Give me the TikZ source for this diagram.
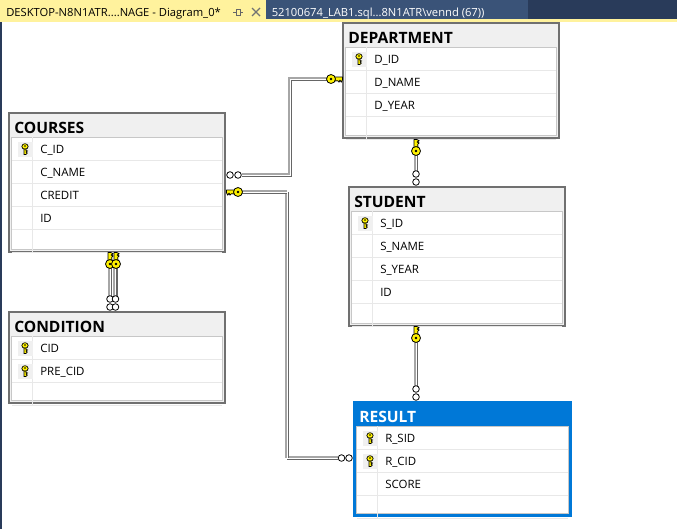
\documentclass[tikz,border=0pt]{standalone}
\usepackage{fontspec}
\setmainfont{Open Sans}
\usetikzlibrary{calc}
\definecolor{barbg}{HTML}{293B5A}
\definecolor{tabbg}{HTML}{3A5378}
\definecolor{tabyel}{HTML}{FFF29D}
\definecolor{keyyel}{HTML}{FFF200}
\definecolor{wingray}{HTML}{F0F0F0}
\definecolor{edgegray}{HTML}{707070}
\definecolor{selblue}{HTML}{0078D7}
\tikzset{
  x=0.75pt,y=-0.75pt,
  tableframe/.style={fill=wingray,draw=none,inner sep=0pt,outer sep=0pt,rectangle,anchor=north west},
  selframe/.style={tableframe,fill=selblue},
  tabletitle/.style={anchor=base west,inner sep=0pt,font=\fontsize{11.7}{12}\selectfont\bfseries},
  rowtext/.style={anchor=base west,inner sep=0pt,font=\fontsize{8.6}{10}\selectfont},
  inner/.style={draw=black!22,line width=0.75pt,fill=white},
  rowline/.style={draw=black!9,line width=0.75pt},
  keycell/.style={fill=wingray,draw=none},
  linklight/.style={line width=1.3pt,draw=black!35,line join=miter},
  linkdark/.style={line width=1.3pt,draw=black!60,line join=miter},
  linkmid/.style={line width=0.55pt,draw=white,line join=miter},
  circ/.style={draw=black,fill=white,line width=0.6pt},
  bigkeyshape/.style={fill=keyyel,draw=black,line width=0.6pt,line join=round},
  tabtext/.style={anchor=base west,inner sep=0pt,font=\fontsize{8.4}{10}\selectfont},
}
% small key icon at (#1)
\newcommand{\smallkey}[1]{%
  \begin{scope}[shift={(#1)}]
    \fill[keycell] (-7.5,-7.5) rectangle (7.5,7.5);
    \fill[keyyel,draw=black,line width=0.5pt] (0,-2.5) ellipse (3.2 and 2.8);
    \fill[keyyel,draw=black,line width=0.5pt] (-1,0) -- (1,0) -- (1,1.5) -- (2.5,2) -- (1,3) -- (2.3,4) -- (1,5.5) -- (-1,5.5) -- cycle;
    \fill[black] (0,-3) circle (0.8);
  \end{scope}}
% big key: head at origin, shaft toward +x, teeth toward +y (screen down)
\newcommand{\bigkey}[2]{%
  \begin{scope}[shift={(#1)},#2]
    \fill[bigkeyshape] (0,-2) -- (11.5,-2) -- (11.5,0.8) -- (10.2,3.2) -- (9,1) -- (8,3.2) -- (6.8,1.8) -- (0,2) -- cycle;
    \fill[bigkeyshape] (0,0) circle (4.5);
    \fill[black] (0,0) circle (1.3);
  \end{scope}}
% table: name, x, y, w, h, frame style, frame colour, frame width
\newcommand{\dbtable}[8]{%
  \node[#6,minimum width=#4*0.75pt,minimum height=#5*0.75pt] (#1) at (#2,#3) {};
  \draw[draw=#7,line width=#8] ($(#1.north west)+(1,1)$) rectangle ($(#1.south east)+(-1,-1)$);
}
\newcommand{\dbrows}[2]{%
  \path[inner] ($(#1.north west)+(3.5,25)$) rectangle ($(#1.south east)+(-3.5,-3.5)$);
  \foreach \r in {1,...,#2}{\draw[rowline] ($(#1.north west)+(4,25+23*\r)$) -- ($(#1.north east)+(-4,25+23*\r)$);}
  \draw[rowline] ($(#1.north west)+(24,25)$) -- ($(#1.north west)+(24,25+23*#2)$);
}
\begin{document}
\begin{tikzpicture}
\useasboundingbox (0,0) rectangle (677,529);
\fill[white] (0,0) rectangle (677,529);
% tab bar
\fill[barbg] (0,0) rectangle (677,19);
\fill[tabyel] (0,19) rectangle (677,22);
\fill[tabyel] (0,0) rectangle (266,22);
\fill[tabbg] (266,0) rectangle (528,19);
\fill[barbg] (0,22) rectangle (1.5,529);
\node[tabtext] (tab1) at (6,16) {DESKTOP-N8N1ATR....NAGE - Diagram\_0*};
\node[tabtext,text=white] (tab2) at (271.5,16) {52100674\_LAB1.sql...8N1ATR\textbackslash vennd (67))};
\draw[black!60,line width=0.6pt] (233,12) -- (236,12) (236,9) rectangle (240,15) (240,12) -- (243,12);
\draw[black!55,line width=1pt] (252,8) -- (260,16) (260,8) -- (252,16);
% tables
\dbtable{courses}{8}{112}{218}{141}{tableframe}{edgegray}{1.1pt}
\dbtable{department}{342}{22}{218}{117}{tableframe}{edgegray}{1.1pt}
\dbtable{student}{348}{186}{218}{141}{tableframe}{edgegray}{1.1pt}
\dbtable{condition}{8}{311}{218}{93}{tableframe}{edgegray}{1.1pt}
\dbtable{result}{353}{401}{219}{116}{selframe}{selblue}{2pt}
\dbrows{courses}{5}
\dbrows{department}{4}
\dbrows{student}{5}
\dbrows{condition}{3}
\dbrows{result}{4}
\foreach \t/\lbl/\c in {courses/COURSES/black,department/DEPARTMENT/black,student/STUDENT/black,condition/CONDITION/black,result/RESULT/white}
  \node[tabletitle,text=\c] at ($(\t.north west)+(6,21)$) {\lbl};
% rows
\foreach \t/\lbl/\n in {courses/C\_ID/0,courses/C\_NAME/1,courses/CREDIT/2,courses/ID/3,
  department/D\_ID/0,department/D\_NAME/1,department/D\_YEAR/2,
  student/S\_ID/0,student/S\_NAME/1,student/S\_YEAR/2,student/ID/3,
  condition/CID/0,condition/PRE\_CID/1,
  result/R\_SID/0,result/R\_CID/1,result/SCORE/2}
  \node[rowtext] at ($(\t.north west)+(32,41+23*\n)$) {\lbl};
\smallkey{$(courses.north west)+(17,37)$}
\smallkey{$(department.north west)+(17,37)$}
\smallkey{$(student.north west)+(17,37)$}
\smallkey{$(condition.north west)+(17,37)$}
\smallkey{$(condition.north west)+(17,60)$}
\smallkey{$(result.north west)+(17,37)$}
\smallkey{$(result.north west)+(17,60)$}
% anchors of the connectors
\coordinate (cdA) at ($(courses.north east)+(16,63)$);
\coordinate (cdB) at ($(department.north west)+(-11,57)$);
\coordinate (cdC) at (290,175);
\coordinate (cdD) at (290,79);
\coordinate (crA) at ($(courses.north east)+(12,80)$);
\coordinate (crB) at ($(result.north west)+(-15,57)$);
\coordinate (crC) at (287,192);
\coordinate (crD) at (287,458);
\coordinate (ccA) at ($(courses.south west)+(102,11)$);
\coordinate (ccB) at ($(condition.north west)+(102,-15)$);
\coordinate (ccC) at ($(courses.south west)+(107.5,11)$);
\coordinate (ccD) at ($(condition.north west)+(107.5,-15)$);
\coordinate (dsA) at ($(department.south west)+(74,12)$);
\coordinate (dsB) at ($(student.north west)+(68,-15)$);
\coordinate (srA) at ($(student.south west)+(68,11)$);
\coordinate (srB) at ($(result.north west)+(63,-15)$);
% connectors: light top/left stroke, dark bottom/right stroke, white core
\foreach \s/\d in {linklight/-1.3,linkdark/1.3,linkmid/0}{
  \draw[\s] ($(cdA)+(0,\d)$) -- ($(cdC)+(\d,\d)$) -- ($(cdD)+(\d,\d)$) -- ($(cdB)+(0,\d)$);
  \draw[\s] ($(crA)+(0,\d)$) -- ($(crC)+(\d,\d)$) -- ($(crD)+(\d,\d)$) -- ($(crB)+(0,\d)$);
}
\foreach \s/\d in {linklight/-1.2,linkdark/1.2,linkmid/0}{
  \draw[\s] ($(ccA)+(\d,0)$) -- ($(ccB)+(\d,0)$);
  \draw[\s] ($(ccC)+(\d,0)$) -- ($(ccD)+(\d,0)$);
  \draw[\s] ($(dsA)+(\d,0)$) -- ($(dsB)+(\d,0)$);
  \draw[\s] ($(srA)+(\d,0)$) -- ($(srB)+(\d,0)$);
}
% infinity ends
\draw[circ] ($(courses.north east)+(4,63)$) circle (3.3);
\draw[circ] ($(courses.north east)+(12,63)$) circle (3.3);
\draw[circ] ($(result.north west)+(-4,57)$) circle (3.3);
\draw[circ] ($(result.north west)+(-11.5,57)$) circle (3.3);
\draw[circ] ($(condition.north west)+(102,-4)$) circle (3.3);
\draw[circ] ($(condition.north west)+(102,-12)$) circle (3.3);
\draw[circ] ($(condition.north west)+(107.5,-4)$) circle (3.3);
\draw[circ] ($(condition.north west)+(107.5,-12)$) circle (3.3);
\draw[circ] ($(student.north west)+(68,-4)$) circle (3.3);
\draw[circ] ($(student.north west)+(68,-12)$) circle (3.3);
\draw[circ] ($(result.north west)+(63,-4)$) circle (3.3);
\draw[circ] ($(result.north west)+(63,-12)$) circle (3.3);
% key ends
\bigkey{$(department.north west)+(-11,57)$}{}
\bigkey{$(courses.north east)+(12,80)$}{xscale=-1}
\bigkey{$(courses.south west)+(102,11)$}{rotate=90}
\bigkey{$(courses.south west)+(108,11)$}{rotate=90}
\bigkey{$(department.south west)+(74,12)$}{rotate=90}
\bigkey{$(student.south west)+(68,11)$}{rotate=90}
\end{tikzpicture}
\end{document}
